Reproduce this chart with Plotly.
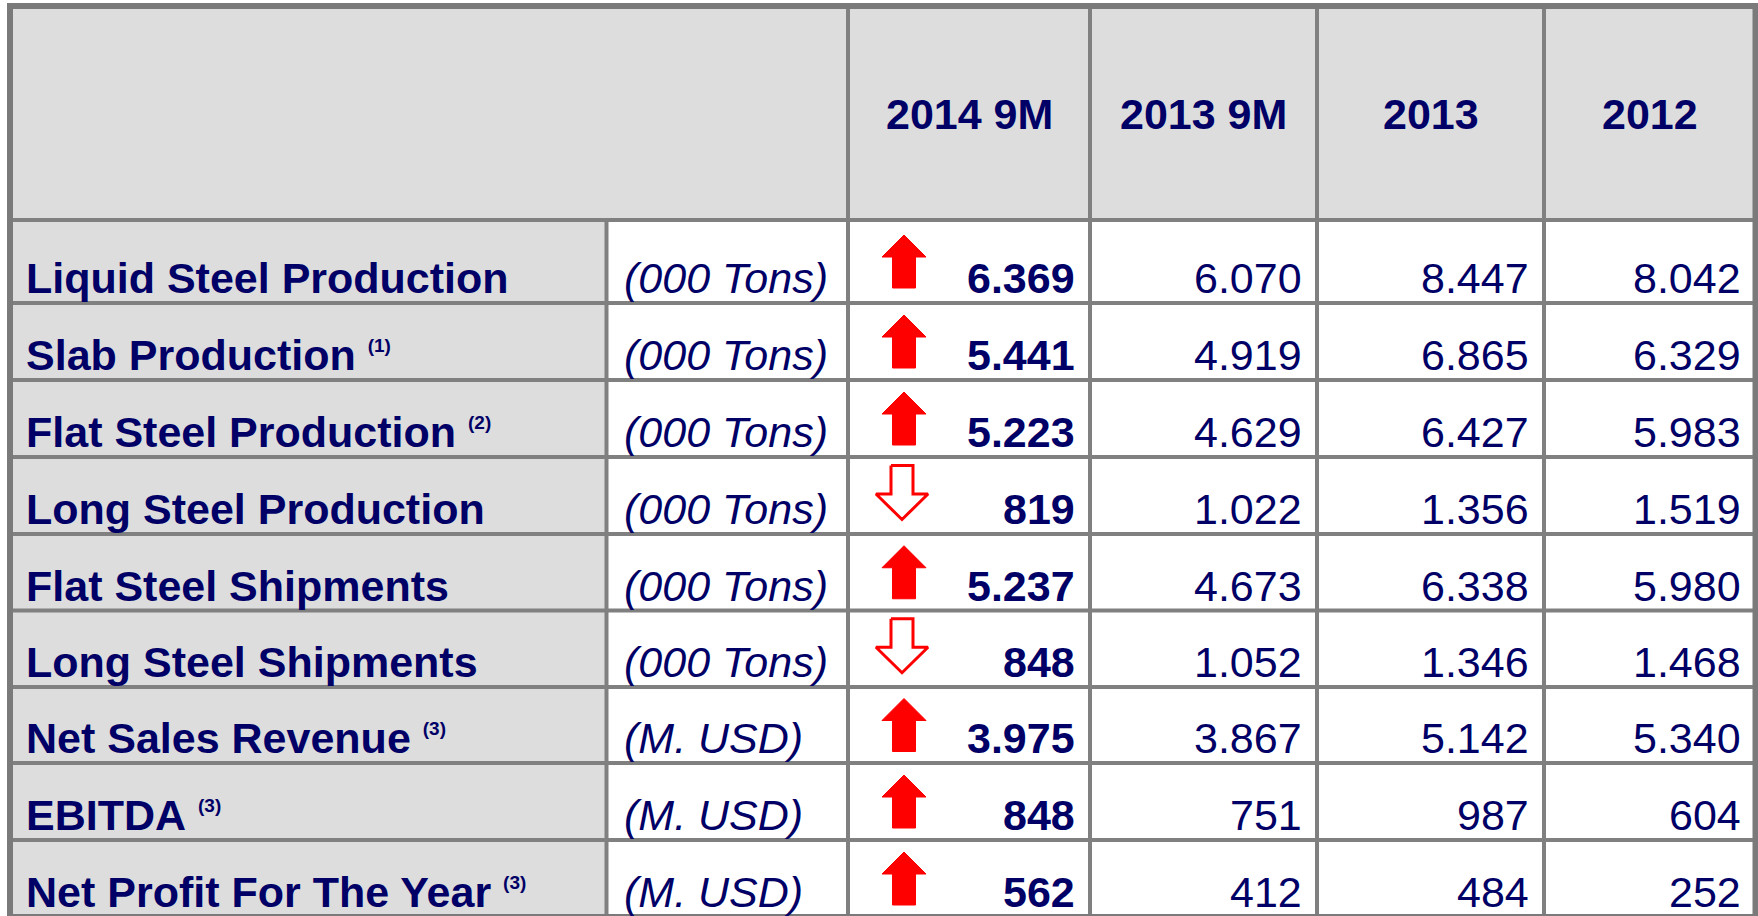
import plotly.graph_objects as go

# ---------------- data ----------------
periods = ["2014 9M", "2013 9M", "2013", "2012"]
labels = ["Liquid Steel Production", "Slab Production", "Flat Steel Production",
          "Long Steel Production", "Flat Steel Shipments", "Long Steel Shipments",
          "Net Sales Revenue", "EBITDA", "Net Profit For The Year"]
notes = ["", "(1)", "(2)", "", "", "", "(3)", "(3)", "(3)"]
units = ["(000 Tons)"] * 6 + ["(M. USD)"] * 3
v_2014_9m = [6369, 5441, 5223, 819, 5237, 848, 3975, 848, 562]
v_2013_9m = [6070, 4919, 4629, 1022, 4673, 1052, 3867, 751, 412]
v_2013 = [8447, 6865, 6427, 1356, 6338, 1346, 5142, 987, 484]
v_2012 = [8042, 6329, 5983, 1519, 5980, 1468, 5340, 604, 252]
series = [v_2014_9m, v_2013_9m, v_2013, v_2012]

# ---------------- layout / style ----------------
W, H = 1758, 916
col_edges = [10, 606.5, 848, 1090, 1317, 1544, 1755.5]   # label | unit | 4 value cols
row_edges = [6, 220, 303, 380, 457, 534, 610.5, 687, 763, 840, 917]
NAVY = "#000066"
GRID = "#808080"
HEAD_BG = "#DDDDDD"
RED = "#FF0000"
FONT = "Liberation Sans, Arial, sans-serif"
FS = 43
SUP_FS = 19


def fmt(v):
    return f"{v:,}".replace(",", ".")


fig = go.Figure()
shapes = []
annotations = []

# cell fills
shapes.append(dict(type="rect", xref="x", yref="y", x0=col_edges[0], x1=col_edges[-1],
                   y0=row_edges[0], y1=row_edges[1], fillcolor=HEAD_BG, line_width=0, layer="below"))
shapes.append(dict(type="rect", xref="x", yref="y", x0=col_edges[0], x1=col_edges[1],
                   y0=row_edges[1], y1=row_edges[-1], fillcolor=HEAD_BG, line_width=0, layer="below"))

# grid lines
for y in row_edges[1:-1]:
    shapes.append(dict(type="line", xref="x", yref="y", x0=col_edges[0], x1=col_edges[-1],
                       y0=y, y1=y, line=dict(color=GRID, width=4)))
shapes.append(dict(type="line", xref="x", yref="y", x0=col_edges[1], x1=col_edges[1],
                   y0=row_edges[1], y1=row_edges[-1], line=dict(color=GRID, width=4)))
for x in col_edges[2:-1]:
    shapes.append(dict(type="line", xref="x", yref="y", x0=x, x1=x,
                       y0=row_edges[0], y1=row_edges[-1], line=dict(color=GRID, width=4)))
shapes.append(dict(type="rect", xref="x", yref="y", x0=col_edges[0], x1=col_edges[-1],
                   y0=row_edges[0], y1=row_edges[-1], line=dict(color="#7a7a7a", width=6),
                   fillcolor="rgba(0,0,0,0)"))

# header texts
hy = (row_edges[0] + row_edges[1]) / 2 + 1
for j, p in enumerate(periods):
    cx = (col_edges[2 + j] + col_edges[3 + j]) / 2
    annotations.append(dict(x=cx, y=hy, xref="x", yref="y", text=f"<b>{p}</b>", showarrow=False,
                            xanchor="center", yanchor="middle",
                            font=dict(family=FONT, size=FS, color=NAVY)))

# body texts
for i, lab in enumerate(labels):
    base = row_edges[i + 2] - 10
    ty = base - 14.8
    txt = f"<b>{lab}</b>"
    if notes[i]:
        txt += f' <sup><span style="font-size:{SUP_FS}px"><b>{notes[i]}</b></span></sup>'
    annotations.append(dict(x=24, y=ty, xref="x", yref="y", text=txt, showarrow=False,
                            xanchor="left", yanchor="middle",
                            font=dict(family=FONT, size=FS, color=NAVY)))
    annotations.append(dict(x=622, y=ty, xref="x", yref="y", text=f"<i>{units[i]}</i>",
                            showarrow=False, xanchor="left", yanchor="middle",
                            font=dict(family=FONT, size=FS, color=NAVY)))
    for j, s in enumerate(series):
        t = fmt(s[i])
        if j == 0:
            t = f"<b>{t}</b>"
        annotations.append(dict(x=col_edges[3 + j] - 13, y=ty, xref="x", yref="y", text=t,
                                showarrow=False, xanchor="right", yanchor="middle",
                                font=dict(family=FONT, size=FS, color=NAVY)))

# trend arrows (direction from 2014 9M vs 2013 9M)
for i in range(len(labels)):
    cy = (row_edges[i + 1] + row_edges[i + 2]) / 2
    if v_2014_9m[i] >= v_2013_9m[i]:
        cx = 904
        xs = [cx, cx + 22, cx + 11.5, cx + 11.5, cx - 11.5, cx - 11.5, cx - 22, cx]
        ys = [cy - 26.5, cy - 4.5, cy - 4.5, cy + 26.5, cy + 26.5, cy - 4.5, cy - 4.5, cy - 26.5]
        fig.add_trace(go.Scatter(x=xs, y=ys, mode="lines", fill="toself", fillcolor=RED,
                                 line=dict(color=RED, width=1), hoverinfo="skip", showlegend=False))
    else:
        cx = 902
        xs = [cx - 11, cx + 11, cx + 11, cx + 26, cx, cx - 26, cx - 11, cx - 11]
        ys = [cy - 30, cy - 30, cy - 1.5, cy - 1.5, cy + 24, cy - 1.5, cy - 1.5, cy - 30]
        fig.add_trace(go.Scatter(x=xs, y=ys, mode="lines", fill="toself", fillcolor="white",
                                 line=dict(color=RED, width=3), hoverinfo="skip", showlegend=False))

fig.update_layout(
    width=W, height=H, autosize=False,
    margin=dict(l=0, r=0, t=0, b=0),
    paper_bgcolor="white", plot_bgcolor="white",
    xaxis=dict(range=[0, W], visible=False, fixedrange=True),
    yaxis=dict(range=[H, 0], visible=False, fixedrange=True),
    shapes=shapes, annotations=annotations, showlegend=False,
)

fig.write_html("out.html", config={"displayModeBar": False},
               post_script="document.body.style.margin='0';document.body.style.overflow='hidden';")
